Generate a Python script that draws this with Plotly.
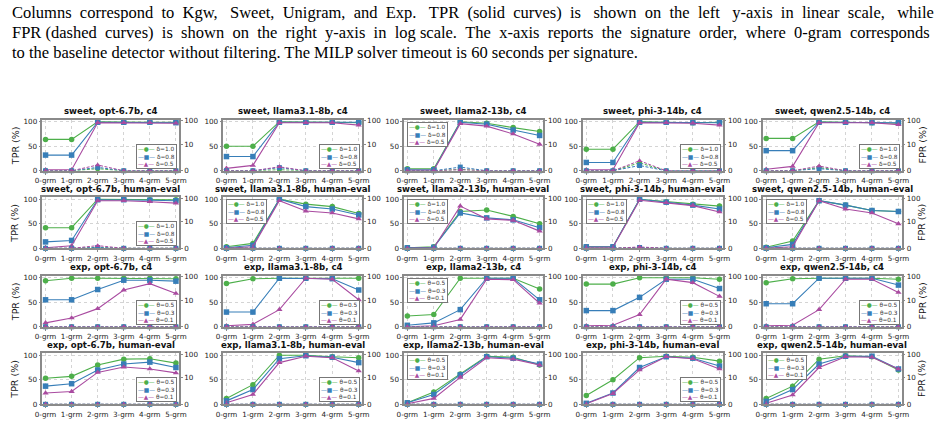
import math
import plotly.graph_objects as go

W, H = 945, 425

categories = ["0-grm", "1-grm", "2-grm", "3-grm", "4-grm", "5-grm"]
models = ["opt-6.7b", "llama3.1-8b", "llama2-13b", "phi-3-14b", "qwen2.5-14b"]
row_methods = ["sweet", "sweet", "exp", "exp"]
row_datasets = ["c4", "human-eval", "c4", "human-eval"]
sweet_labels = ["δ=1.0", "δ=0.8", "δ=0.5"]
exp_labels = ["θ=0.5", "θ=0.3", "θ=0.1"]

# TPR (%) per model: [series1, series2, series3]
tpr_sweet_c4 = [
    [[64, 64, 100, 99, 99, 99], [32, 32, 99, 99, 99, 98], [2, 2, 98, 98, 98, 97]],
    [[50, 50, 100, 100, 99, 98], [29, 29, 99, 99, 99, 99], [5, 11, 98, 98, 98, 93]],
    [[4, 4, 100, 97, 88, 80], [2, 2, 99, 95, 83, 72], [1, 1, 96, 91, 75, 54]],
    [[44, 44, 100, 99, 98, 99], [17, 17, 99, 99, 98, 98], [2, 2, 98, 98, 97, 93]],
    [[66, 66, 100, 99, 98, 97], [41, 41, 99, 99, 98, 98], [3, 9, 98, 98, 98, 94]],
]
tpr_sweet_he = [
    [[42, 42, 100, 100, 99, 99], [13, 16, 99, 99, 98, 97], [1, 5, 97, 97, 95, 92]],
    [[3, 10, 100, 90, 85, 71], [1, 6, 100, 85, 80, 68], [0, 3, 97, 76, 72, 60]],
    [[1, 3, 75, 78, 65, 50], [1, 2, 72, 62, 58, 42], [0, 1, 86, 60, 57, 35]],
    [[3, 3, 100, 95, 90, 86], [3, 3, 100, 94, 88, 80], [2, 2, 98, 93, 87, 74]],
    [[2, 15, 97, 88, 77, 75], [1, 8, 97, 88, 77, 75], [0, 3, 97, 80, 72, 50]],
]
tpr_exp_c4 = [
    [[94, 99, 99, 99, 99, 98], [55, 55, 76, 95, 95, 93], [8, 18, 37, 75, 88, 68]],
    [[88, 98, 99, 99, 99, 99], [30, 30, 99, 99, 98, 75], [2, 5, 35, 99, 97, 55]],
    [[22, 25, 99, 99, 99, 77], [3, 8, 35, 99, 99, 55], [0, 2, 15, 97, 96, 48]],
    [[87, 87, 100, 100, 100, 97], [33, 33, 60, 97, 97, 78], [2, 3, 25, 97, 90, 62]],
    [[90, 98, 99, 99, 99, 97], [47, 47, 99, 99, 99, 85], [2, 3, 35, 97, 97, 70]],
]
tpr_exp_he = [
    [[53, 57, 80, 92, 93, 84], [37, 42, 70, 82, 86, 75], [23, 26, 65, 76, 72, 64]],
    [[12, 40, 100, 100, 97, 95], [7, 30, 93, 99, 96, 85], [3, 20, 85, 98, 95, 68]],
    [[3, 25, 62, 98, 96, 80], [3, 20, 60, 97, 94, 82], [1, 12, 55, 95, 92, 80]],
    [[18, 50, 95, 98, 96, 88], [2, 23, 75, 97, 94, 78], [1, 22, 70, 97, 93, 72]],
    [[12, 37, 92, 99, 97, 70], [6, 30, 82, 98, 98, 72], [2, 19, 75, 97, 96, 72]],
]

# FPR (%) per model
fpr_sweet_c4 = [
    [[0, 0, 0.8, 0, 0, 0], [0, 0, 1.3, 0, 0, 0], [0, 0, 2.2, 0, 0, 0]],
    [[0, 0, 0.4, 0, 0, 0], [0, 0, 1.2, 0, 0, 0], [0, 0, 1.5, 0, 0, 0]],
    [[0, 0, 0.5, 0, 0, 0], [0, 0, 1.4, 0, 0, 0], [0, 0, 0.4, 0, 0, 0]],
    [[0, 0, 3.0, 0, 0, 0], [0, 0, 2.0, 0, 0, 0], [0, 0, 3.8, 0, 0, 0]],
    [[0, 0, 1.2, 0, 0, 0], [0, 0, 0.8, 0, 0, 0], [0, 0, 1.8, 0, 0, 0]],
]
fpr_sweet_he = [
    [[0, 0, 0.3, 0, 0, 0], [0, 0, 0.3, 0, 0, 0], [0, 0, 1.0, 0, 0, 0]],
    [[0, 0, 0, 0, 0, 0], [0, 0, 0, 0, 0, 0], [0, 0, 0, 0, 0, 0]],
    [[0, 0, 0, 0, 0, 0], [0, 0, 0, 0, 0, 0], [0, 0, 0, 0, 0, 0]],
    [[0, 0, 0.3, 0, 0, 0], [0, 0, 0.3, 0, 0, 0], [0, 0, 0.5, 0, 0, 0]],
    [[0, 0, 0, 0, 0, 0], [0, 0, 0, 0, 0, 0], [0, 0, 0, 0, 0, 0]],
]
fpr_exp_c4 = [[[0, 0, 0, 0, 0, 0]] * 3 for _ in range(5)]
fpr_exp_he = [[[0, 0, 0, 0, 0, 0]] * 3 for _ in range(5)]

legend_pos = [
    ["lr", "lr", "ul", "lr", "lr"],
    ["lr", "ul", "ul", "ul", "ul"],
    ["lr", "lr", "ul", "lr", "lr"],
    ["lr", "lr", "ul", "lr", "ul"],
]

caption_lines = [
    "Columns correspond to Kgw, Sweet, Unigram, and Exp. TPR (solid curves) is shown on the left y-axis in linear scale, while",
    "FPR (dashed curves) is shown on the right y-axis in log scale. The x-axis reports the signature order, where 0-gram corresponds",
    "to the baseline detector without filtering. The MILP solver timeout is 60 seconds per signature.",
]
caption_extra_spaces = [25, 18, 0]

colors = ["#4daf4a", "#377eb8", "#a94ba0"]
symbols = ["circle", "square", "triangle-up"]
glyphs = ["●", "■", "▲"]

tpr_rows = [tpr_sweet_c4, tpr_sweet_he, tpr_exp_c4, tpr_exp_he]
fpr_rows = [fpr_sweet_c4, fpr_sweet_he, fpr_exp_c4, fpr_exp_he]

# symlog transform (linthresh=10, linscale=1) for the right axis
LT = 10.0
LA = 1.0 / (1.0 - 1.0 / 10.0)


def symlog(v):
    if v <= LT:
        return v * LA
    return LT * (LA + math.log10(v / LT))


def justify(line, extra):
    words = line.split(" ")
    gaps = len(words) - 1
    out = words[0]
    for i in range(gaps):
        n = extra * (i + 1) // gaps - extra * i // gaps
        out += " " + "\u00a0" * n + words[i + 1]
    return out


col_left = [35, 219, 403, 585, 768]
col_right = [174, 360, 544, 727, 909]
row_top = [119, 198, 278, 357]
row_h = 52

FONT = "DejaVu Sans"
GRID = "#d4d4d4"
SPINE = "#8a8a8a"
TICKFONT = dict(family=FONT, size=7.2, color="#222")

fig = go.Figure()
layout = {}
annotations = []

for r in range(4):
    for c in range(5):
        k = r * 5 + c
        xi = k + 1
        yl = k + 1
        yr = k + 21
        xname = "x" if xi == 1 else f"x{xi}"
        ylname = "y" if yl == 1 else f"y{yl}"
        yrname = f"y{yr}"
        x0 = col_left[c] / W
        x1 = col_right[c] / W
        y1 = 1 - row_top[r] / H
        y0 = 1 - (row_top[r] + row_h) / H

        layout["xaxis" if xi == 1 else f"xaxis{xi}"] = dict(
            domain=[x0, x1], anchor=ylname, type="category",
            categoryorder="array", categoryarray=categories,
            range=[-0.12, 5.12], showgrid=True, gridcolor=GRID, griddash="dot",
            gridwidth=0.8, showline=True, linecolor=SPINE, linewidth=1.5, mirror=True,
            ticks="outside", ticklen=2, tickcolor=SPINE,
            tickfont=TICKFONT, zeroline=False,
        )
        layout["yaxis" if yl == 1 else f"yaxis{yl}"] = dict(
            domain=[y0, y1], anchor=xname, range=[0, 104],
            tickvals=[0, 50, 100], showgrid=True, gridcolor=GRID, griddash="dot",
            gridwidth=0.8, showline=True, linecolor=SPINE, linewidth=1.5,
            ticks="outside", ticklen=2, tickcolor=SPINE, zeroline=False,
            tickfont=TICKFONT,
        )
        layout[f"yaxis{yr}"] = dict(
            overlaying=ylname, anchor=xname, side="right",
            range=[0, symlog(110)], tickvals=[symlog(0), symlog(10), symlog(100)],
            ticktext=["0", "10", "100"], showgrid=False, showline=True,
            linecolor=SPINE, linewidth=1.5, ticks="outside", ticklen=2,
            tickcolor=SPINE, zeroline=False, tickfont=TICKFONT,
        )

        labels = sweet_labels if row_methods[r] == "sweet" else exp_labels
        for s in range(3):
            fig.add_trace(go.Scatter(
                x=categories, y=tpr_rows[r][c][s], xaxis=xname, yaxis=ylname,
                mode="lines+markers", line=dict(color=colors[s], width=1.1),
                marker=dict(symbol=symbols[s], size=5.5, color=colors[s]),
                cliponaxis=False, showlegend=False,
            ))
        for s in range(3):
            fig.add_trace(go.Scatter(
                x=categories, y=[symlog(v) for v in fpr_rows[r][c][s]],
                xaxis=xname, yaxis=yrname,
                mode="lines+markers", line=dict(color=colors[s], width=1, dash="3px,1.6px"),
                marker=dict(symbol=symbols[s], size=5, color=colors[s]),
                cliponaxis=False, showlegend=False,
            ))

        # title
        annotations.append(dict(
            text=f"<b>{row_methods[r]}, {models[c]}, {row_datasets[r]}</b>",
            x=(x0 + x1) / 2, y=y1 + 1.5 / H, xref="paper", yref="paper",
            xanchor="center", yanchor="bottom", showarrow=False,
            font=dict(family=FONT, size=8.6, color="#111"),
        ))
        # legend box
        txt = "<br>".join(
            f"<span style='color:{colors[s]}'>—{glyphs[s]}—</span> {labels[s]}" for s in range(3)
        )
        if legend_pos[r][c] == "lr":
            lx, ly, xa, ya = 0.985, 0.04, "right", "bottom"
        else:
            lx, ly, xa, ya = 0.02, 0.96, "left", "top"
        annotations.append(dict(
            text=txt, x=lx, y=ly, xref=f"{xname} domain", yref=f"{ylname} domain",
            xanchor=xa, yanchor=ya, showarrow=False, align="left",
            font=dict(family=FONT, size=5.8, color="#333"),
            bgcolor="white", bordercolor="#777", borderwidth=1, borderpad=1,
        ))
        if c == 0:
            annotations.append(dict(
                text="TPR (%)", x=7 / W, y=(y0 + y1) / 2, xref="paper", yref="paper",
                xanchor="center", yanchor="middle", textangle=-90, showarrow=False,
                font=dict(family=FONT, size=9.5, color="#111"),
            ))
        if c == 4:
            annotations.append(dict(
                text="FPR (%)", x=930 / W, y=(y0 + y1) / 2, xref="paper", yref="paper",
                xanchor="center", yanchor="middle", textangle=-90, showarrow=False,
                font=dict(family=FONT, size=9.5, color="#111"),
            ))

for i, line in enumerate(caption_lines):
    annotations.append(dict(
        text=justify(line, caption_extra_spaces[i]), x=2 / W, y=1 - (10 + 20.3 * i) / H,
        xref="paper", yref="paper",
        xanchor="left", yanchor="middle", showarrow=False,
        font=dict(family="Liberation Serif", size=16.5, color="#000"),
    ))

fig.update_layout(
    width=W, height=H, margin=dict(l=0, r=0, t=0, b=0),
    paper_bgcolor="white", plot_bgcolor="white", showlegend=False,
    annotations=annotations, **layout,
)

fig.write_html("out.html")
